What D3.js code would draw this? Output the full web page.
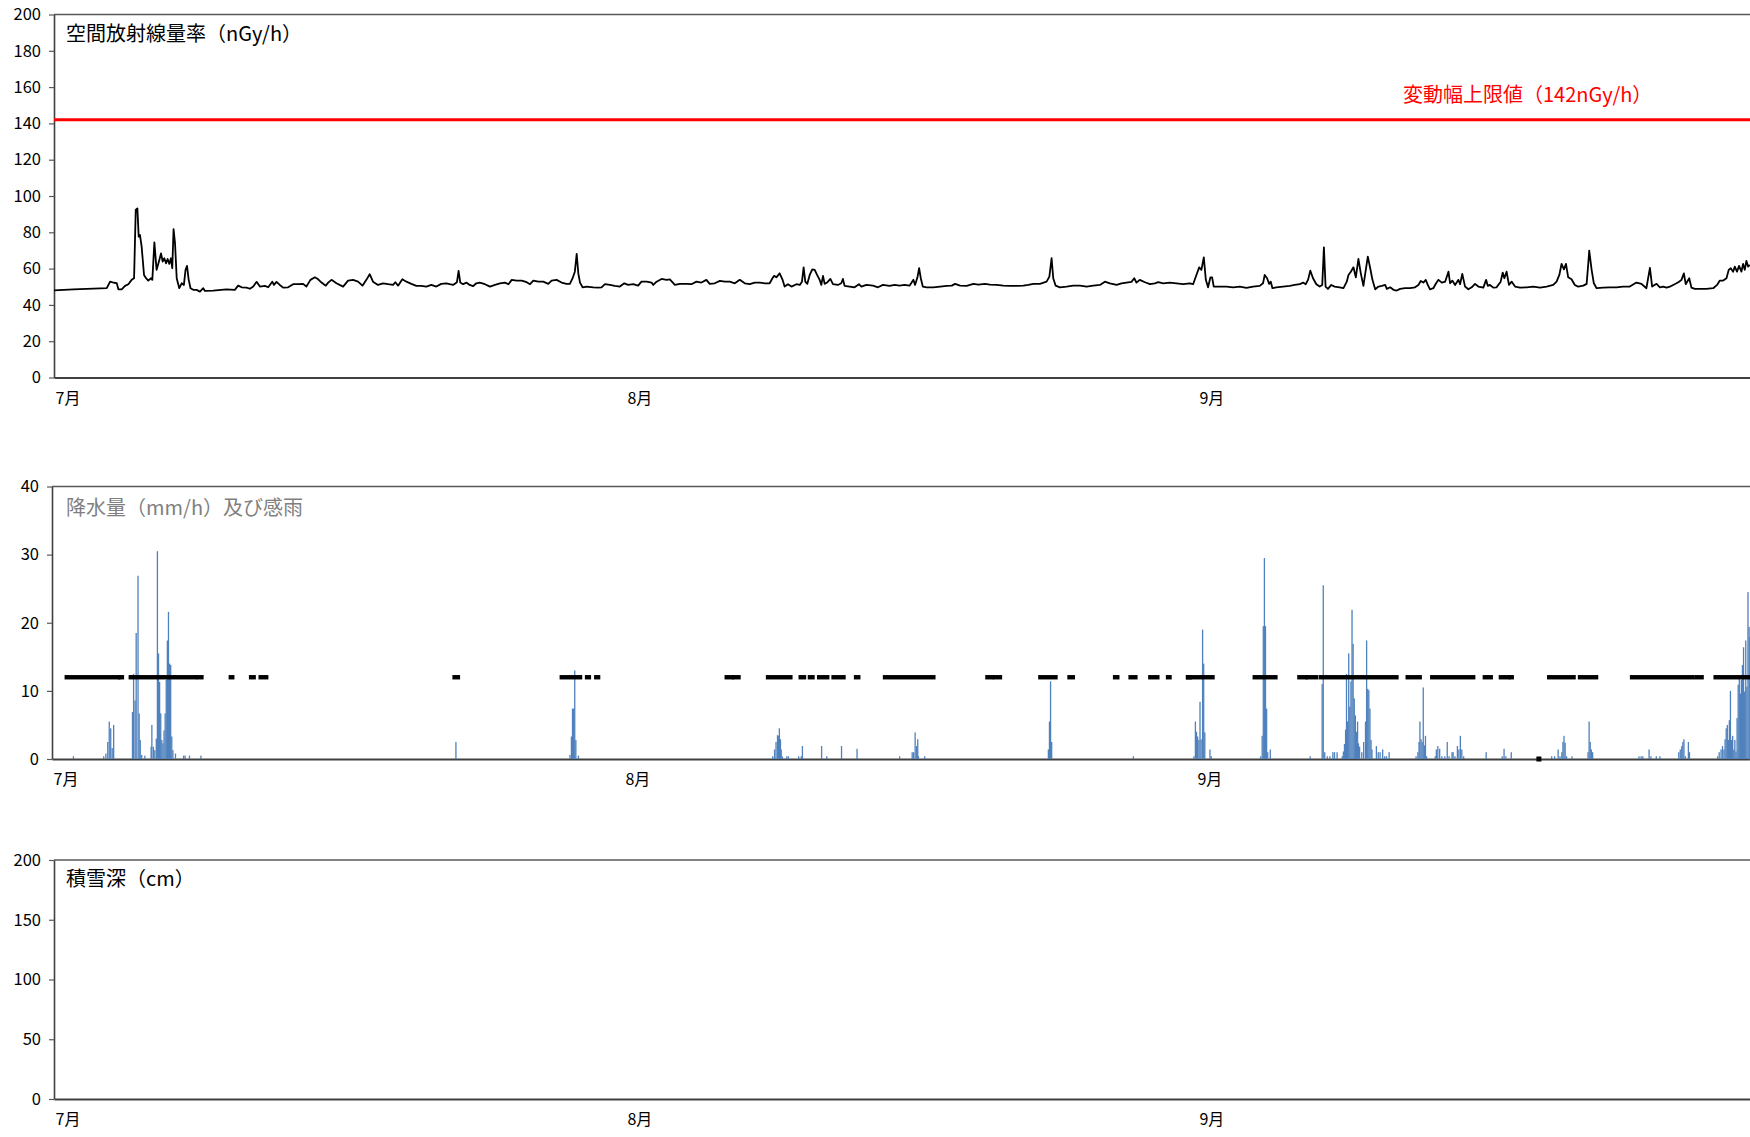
<!DOCTYPE html>
<html><head><meta charset="utf-8">
<script src="https://cdn.jsdelivr.net/npm/d3@7"></script>
<style>
body{margin:0;background:#fff}
svg{display:block}
text{font-family:"Noto Sans CJK JP","Noto Sans",sans-serif}
</style>
</head><body>
<svg id="c" width="1750" height="1137"></svg>
<script>
// ---------- data (day offset from 1 July, value) ----------
const monthLabels = ["7月","8月","9月"];
const monthStartDays = [0,31,62];
const totalDays = 92;

const radTicks = [0,20,40,60,80,100,120,140,160,180,200];
const rainTicks = [0,10,20,30,40];
const snowTicks = [0,50,100,150,200];

const radTitle = "空間放射線量率（nGy/h）";
const limitLabel = "変動幅上限値（142nGy/h）";
const limitValue = 142;
const rainTitle = "降水量（mm/h）及び感雨";
const snowTitle = "積雪深（cm）";
const rainSenseLevel = 12;

const radiation = [
[0,48.0],[1.05,48.5],[2.86,49.2],[3.04,52.8],[3.25,52.2],[3.40,52.0],[3.49,48.6],[3.67,48.6],[3.85,50.5],[4.03,51.4],[4.21,53.8],[4.34,54.7],[4.43,92.3],[4.52,93.2],[4.59,77.6],[4.66,78.5],[4.75,72.1],[4.88,56.5],[4.99,54.7],[5.11,53.4],[5.26,54.7],[5.33,53.8],[5.44,74.5],[5.56,59.3],[5.71,64.8],[5.80,68.4],[5.89,63.9],[5.98,65.7],[6.07,62.9],[6.16,65.3],[6.25,62.6],[6.34,65.7],[6.41,60.2],[6.48,81.7],[6.56,73.9],[6.65,54.7],[6.79,49.2],[6.92,51.9],[7.04,51.0],[7.13,59.3],[7.21,61.5],[7.30,53.8],[7.40,49.2],[7.55,48.3],[7.73,48.3],[7.91,47.3],[8.09,49.2],[8.18,47.7],[8.63,47.9],[9.35,48.6],[9.80,48.3],[9.98,50.6],[10.17,49.7],[10.44,49.5],[10.62,48.9],[10.80,50.1],[10.98,52.7],[11.16,50.1],[11.43,50.5],[11.61,49.7],[11.83,52.8],[11.92,51.0],[12.06,52.7],[12.24,51.0],[12.42,49.5],[12.69,49.7],[12.96,51.4],[13.23,51.4],[13.50,51.6],[13.68,50.1],[13.90,53.8],[14.14,55.2],[14.32,54.1],[14.50,52.3],[14.73,50.6],[14.86,52.3],[15.04,53.8],[15.31,51.9],[15.67,50.1],[15.94,53.4],[16.21,53.8],[16.48,52.8],[16.72,50.6],[16.93,53.8],[17.11,56.9],[17.29,52.8],[17.56,51.0],[17.84,51.9],[18.11,51.4],[18.38,51.0],[18.50,52.5],[18.65,50.6],[18.88,54.1],[19.10,52.8],[19.37,51.6],[19.64,50.5],[19.91,50.5],[20.18,50.1],[20.45,51.0],[20.72,50.1],[20.99,51.6],[21.26,51.9],[21.45,51.4],[21.63,51.0],[21.84,52.5],[21.93,58.7],[22.02,52.3],[22.17,51.4],[22.35,52.3],[22.53,51.0],[22.71,50.3],[22.89,51.9],[23.07,52.3],
[23.36,51.4],[23.63,50.1],[23.90,51.0],[24.17,51.9],[24.44,52.3],[24.63,51.4],[24.81,53.8],[25.08,53.4],[25.35,53.4],[25.62,52.5],[25.80,51.4],[25.98,53.4],[26.25,52.8],[26.52,52.8],[26.79,51.6],[26.97,53.4],[27.24,53.8],[27.51,52.3],[27.78,51.6],[27.96,51.6],[28.11,54.7],[28.23,58.3],[28.33,68.1],[28.42,57.2],[28.51,52.3],[28.65,49.7],[28.87,50.1],[29.23,49.7],[29.50,49.5],[29.68,49.7],[29.86,51.4],[30.13,51.0],[30.40,50.5],[30.67,50.1],[30.91,51.9],[31.12,51.0],[31.39,51.4],[31.66,50.6],[31.84,52.8],[32.12,52.8],[32.39,52.3],[32.48,51.0],[32.66,52.8],[32.93,54.3],[33.20,53.8],[33.38,54.1],[33.65,51.0],[33.92,51.6],[34.28,51.6],[34.55,51.4],[34.82,52.8],[35.09,52.3],[35.36,53.8],[35.54,51.6],[35.81,51.9],[36.09,53.2],[36.36,52.8],[36.63,52.8],[36.90,51.9],[37.17,53.8],[37.44,51.9],[37.71,51.4],[37.98,52.3],[38.25,52.3],[38.52,51.9],[38.79,51.9],[38.94,54.7],[39.03,56.0],[39.15,55.2],[39.33,57.4],[39.48,54.1],[39.60,50.1],[39.78,51.4],[39.97,50.1],[40.24,51.4],[40.42,51.0],[40.54,52.8],[40.63,60.7],[40.72,52.8],[40.83,51.6],[40.96,56.5],[41.10,59.6],[41.23,59.3],[41.36,56.5],[41.50,53.8],[41.59,51.0],[41.68,56.0],[41.77,51.6],[41.90,52.3],[42.08,54.3],[42.22,51.4],[42.49,51.0],[42.67,51.9],[42.76,54.3],[42.85,50.5],[43.12,50.1],[43.39,49.7],[43.63,51.4],[43.76,50.1],[44.03,51.0],[44.39,50.6],[44.66,49.7],[44.93,51.0],[45.29,50.5],[45.56,51.0],[45.83,50.6],[46.10,51.0],[46.37,50.6],
[46.58,53.8],[46.67,51.0],[46.80,55.2],[46.89,60.2],[46.98,54.7],[47.09,50.1],[47.30,49.7],[47.66,49.7],[48.03,50.1],[48.39,50.5],[48.66,50.6],[48.84,51.6],[49.11,50.6],[49.47,50.5],[49.83,51.6],[50.10,51.2],[50.46,51.6],[50.73,51.2],[51.09,51.0],[51.45,50.6],[51.82,50.5],[52.18,50.5],[52.54,50.6],[52.81,51.0],[53.08,51.6],[53.44,51.6],[53.80,52.8],[53.95,55.6],[54.07,65.7],[54.16,54.7],[54.29,50.6],[54.52,49.7],[54.88,50.1],[55.24,50.6],[55.61,50.6],[55.97,50.1],[56.33,50.6],[56.69,51.0],[56.96,52.8],[57.23,51.9],[57.59,51.0],[57.86,51.9],[58.13,52.3],[58.40,52.7],[58.55,54.7],[58.67,52.3],[58.85,53.8],[59.13,52.5],[59.40,51.4],[59.67,51.9],[59.85,52.5],[60.12,51.9],[60.48,52.3],[60.84,51.9],[61.20,51.4],[61.56,51.9],[61.74,51.4],[61.92,56.5],[62.07,60.7],[62.19,59.3],[62.32,66.2],[62.43,53.8],[62.55,49.7],[62.68,55.2],[62.77,55.2],[62.86,50.1],[63.19,50.1],[63.55,50.1],[63.91,49.7],[64.27,50.1],[64.63,49.4],[64.99,50.1],[65.35,50.5],[65.53,51.9],[65.62,56.5],[65.75,54.7],[65.86,51.6],[65.95,52.8],[66.04,49.2],[66.25,49.7],[66.61,50.1],[66.98,50.5],[67.25,51.0],[67.52,51.4],[67.70,52.3],[67.84,51.4],[67.97,53.8],[68.09,58.9],[68.24,54.7],[68.42,51.4],[68.60,50.1],[68.74,51.0],[68.83,71.7],[68.92,50.1],[69.05,48.8],[69.23,51.0],[69.41,50.1],[69.68,49.7],
[69.89,49.2],[70.07,52.8],[70.16,56.5],[70.29,58.3],[70.43,60.7],[70.56,55.2],[70.70,65.3],[70.83,57.4],[70.97,50.5],[71.10,59.3],[71.21,66.6],[71.34,60.2],[71.46,53.8],[71.61,48.6],[71.79,50.1],[71.97,50.5],[72.15,51.0],[72.24,48.8],[72.42,49.7],[72.60,48.3],[72.78,47.9],[72.96,48.8],[73.23,49.2],[73.50,49.2],[73.77,49.7],[73.95,51.0],[74.08,53.2],[74.22,52.3],[74.35,53.8],[74.46,51.0],[74.58,48.6],[74.76,49.2],[74.91,51.9],[75.04,53.8],[75.22,52.3],[75.40,52.8],[75.58,58.3],[75.67,51.9],[75.79,53.4],[75.94,51.0],[76.12,53.8],[76.21,51.4],[76.33,57.1],[76.48,50.1],[76.66,48.6],[76.84,49.7],[77.02,51.6],[77.20,50.1],[77.47,49.5],[77.62,53.8],[77.71,50.5],[77.83,51.0],[78.01,49.5],[78.19,49.7],[78.41,52.8],[78.52,57.8],[78.61,54.7],[78.73,58.3],[78.86,51.0],[79.01,52.8],[79.19,50.1],[79.46,49.5],[79.82,49.7],[80.18,50.1],[80.54,49.5],[80.90,50.1],[81.26,51.0],[81.44,52.8],[81.59,56.5],[81.71,62.6],[81.84,59.6],[81.95,62.6],[82.07,55.2],[82.25,54.1],[82.43,51.0],[82.61,50.1],[82.89,50.6],[83.07,51.6],[83.16,62.9],[83.21,69.9],[83.34,59.3],[83.46,51.9],[83.61,49.2],[83.97,49.5],[84.33,49.7],[84.69,49.7],[85.05,50.1],[85.41,50.1],[85.77,52.3],[86.04,51.6],[86.31,49.2],[86.50,60.4],[86.62,50.1],[86.86,51.6],[87.04,49.7],[87.22,50.1],[87.40,49.5],[87.58,50.1],[87.76,51.0],[87.94,51.9],[88.08,52.8],[88.21,53.8],[88.34,57.4],[88.44,51.4],[88.63,54.7],[88.75,49.5],[88.93,48.8],[89.20,48.8],[89.56,48.8],[89.93,49.2],[90.14,51.0],[90.29,53.4],[90.47,53.4],[90.65,54.7],[90.77,59.3],[90.88,60.2],[91.01,58.3],[91.10,61.1],[91.22,58.3],[91.33,61.5],[91.46,58.3],[91.55,62.6],[91.64,59.3],[91.73,64.2],[91.82,61.1],[91.91,62.0]
];

const rainfall = [
[1.16,0.4],[2.80,0.4],[2.92,0.8],[3.02,2.5],[3.10,5.5],[3.18,4.5],[3.26,1.6],[3.34,5.0],
[4.36,6.9],[4.42,12.5],[4.50,8.6],[4.56,18.5],[4.66,26.9],[4.72,6.7],[4.78,2.8],[4.86,0.6],[5.03,0.5],
[5.37,1.8],[5.41,5.0],[5.49,1.8],[5.57,1.3],[5.65,3.0],[5.71,30.5],[5.77,15.5],[5.83,11.3],[5.89,6.7],[5.95,2.8],[6.01,2.3],[6.07,4.2],[6.13,6.7],[6.19,11.6],[6.25,17.4],[6.31,21.6],[6.37,14.0],[6.43,13.8],[6.49,3.3],[6.55,1.3],[6.69,0.8],[7.13,0.5],[7.21,0.5],[7.45,0.5],[8.07,0.5],
[21.89,2.5],
[28.07,0.6],[28.15,3.3],[28.21,7.4],[28.27,7.4],[28.33,13.0],[28.39,2.8],[28.53,0.5],
[39.06,0.4],[39.16,1.4],[39.24,2.5],[39.32,3.5],[39.38,3.4],[39.42,4.5],[39.48,2.9],[39.52,1.4],[39.58,0.4],[39.82,0.4],[39.91,0.4],[40.47,0.4],[40.61,0.4],[40.67,1.9],[41.71,1.9],[41.99,0.4],[42.79,1.9],[43.63,1.5],
[45.94,0.4],[46.62,1.0],[46.70,1.0],[46.78,3.9],[46.86,1.9],[46.92,2.9],[46.96,0.4],[47.30,0.4],
[54.00,1.4],[54.06,5.5],[54.12,11.4],[54.18,2.5],[58.61,0.4],
[61.89,0.4],[61.97,5.5],[62.03,4.0],[62.09,3.3],[62.16,2.8],[62.22,8.4],[62.28,2.9],[62.36,19.0],[62.42,14.0],[62.48,3.9],[62.76,1.4],[62.83,0.4],
[65.51,0.4],[65.59,3.4],[65.65,19.5],[65.71,29.5],[65.77,19.5],[65.83,7.4],[65.89,1.0],[66.03,1.4],
[68.19,0.4],[68.84,11.0],[68.90,25.5],[68.98,1.0],[69.12,0.4],[69.26,0.4],[69.42,1.0],[69.51,1.0],[69.65,1.0],
[69.93,0.4],[69.99,1.1],[70.05,2.2],[70.11,4.3],[70.16,12.5],[70.22,5.5],[70.28,15.5],[70.34,7.7],[70.40,11.4],[70.46,21.9],[70.52,16.9],[70.58,8.9],[70.64,6.4],[70.70,4.0],[70.76,5.5],[70.81,2.3],[70.87,1.8],[70.99,1.0],
[71.09,2.5],[71.19,5.5],[71.25,17.4],[71.31,10.3],[71.37,10.1],[71.43,7.4],[71.49,2.8],[71.54,1.4],[71.78,1.9],[71.88,1.0],[71.98,1.0],[72.12,1.4],[72.23,0.4],[72.33,0.4],[72.47,1.0],
[73.93,0.4],[74.03,1.0],[74.09,2.5],[74.14,5.5],[74.20,2.9],[74.26,2.5],[74.32,10.5],[74.38,2.0],[74.44,3.4],[74.50,0.4],
[74.97,0.4],[75.03,1.4],[75.11,1.9],[75.21,1.5],[75.33,0.4],[75.49,0.4],[75.62,2.5],[75.72,0.4],[75.88,1.0],[75.94,1.0],[76.04,0.4],[76.17,1.9],[76.25,1.4],[76.33,3.4],[76.41,1.4],[76.51,0.4],
[77.73,1.0],[78.60,0.4],[78.70,1.5],[78.80,0.4],[79.09,1.0],
[81.28,0.4],[81.44,0.4],[81.63,1.4],[81.73,0.4],[81.83,1.0],[81.89,2.5],[81.95,3.4],[82.01,2.4],[82.09,0.4],[82.38,0.4],
[83.25,1.0],[83.31,5.5],[83.37,2.5],[83.43,1.4],[83.50,1.0],
[86.01,0.4],[86.13,0.4],[86.22,0.4],[86.56,1.4],[86.66,0.4],[86.95,0.4],[87.15,0.4],
[88.17,1.0],[88.25,1.4],[88.33,1.9],[88.39,2.5],[88.45,2.9],[88.53,0.4],[88.69,2.5],[88.75,1.0],
[90.28,0.4],[90.36,1.0],[90.46,1.4],[90.54,1.9],[90.62,1.4],[90.68,2.9],[90.74,4.5],[90.80,5.0],[90.86,2.8],[90.91,5.7],[90.97,10.0],[91.03,2.8],[91.09,3.4],[91.15,1.4],[91.21,2.8],[91.27,1.1],[91.33,6.0],[91.39,10.9],[91.45,12.1],[91.51,9.6],[91.56,11.6],[91.62,13.8],[91.68,16.4],[91.74,9.9],[91.80,17.4],[91.86,10.6],[91.92,24.5],[91.98,19.4],[92.02,17.9]
];

// periods with rain sensed [start day, end day]
const rainSensed = [
[0.79,3.60],[3.68,3.80],[4.26,7.77],[7.93,8.11],[9.68,9.78],[10.78,10.94],[11.30,11.62],[21.81,22.01],[27.62,28.63],[28.99,29.11],[29.49,29.61],
[36.56,36.86],[36.98,37.22],[38.80,40.03],[40.57,40.77],[41.07,41.23],[41.57,42.03],[42.35,42.91],[43.57,43.71],[45.14,47.78],[50.69,50.95],[51.10,51.39],[53.56,54.40],[55.14,55.34],[57.61,57.75],[58.45,58.73],[59.52,59.92],[60.48,60.58],[61.56,61.68],
[61.57,62.91],[65.18,66.32],[67.60,67.95],[68.05,68.53],[68.77,72.88],[73.47,74.14],[74.80,77.04],[77.65,77.99],[78.52,78.93],[79.07,79.13],[81.14,82.48],[82.81,83.70],[85.63,88.92],[89.12,89.42],[90.16,92.04]
];
const rainSensedZero = [80.59];

const snowDepth = []; // no snow in this period

// ---------- drawing ----------
const svg = d3.select("#c");
const dayPx = 18.45;
const axisColor = "#404040";

function panel(cfg){
  const x = d3.scaleLinear().domain([0,totalDays]).range([cfg.x0, cfg.x0 + totalDays*dayPx]);
  const y = d3.scaleLinear().domain([0,cfg.yMax]).range([cfg.bottom, cfg.top]);
  const g = svg.append("g");
  const clipId = "clip" + cfg.name;
  svg.append("clipPath").attr("id", clipId).append("rect")
    .attr("x", cfg.x0).attr("y", cfg.top - 2).attr("width", 1750 - cfg.x0).attr("height", cfg.bottom - cfg.top + 2);
  // top border
  g.append("line").attr("x1", cfg.x0).attr("x2", 1750).attr("y1", cfg.top).attr("y2", cfg.top)
    .attr("stroke", "#595959").attr("stroke-width", 1.3);
  // y axis
  const ya = g.append("g").attr("transform", `translate(${cfg.x0},0)`)
    .call(d3.axisLeft(y).tickValues(cfg.ticks).tickSize(5).tickPadding(8).tickSizeOuter(0));
  ya.select(".domain").attr("stroke", axisColor).attr("stroke-width", 1.6);
  ya.selectAll(".tick line").attr("stroke", "#595959").attr("stroke-width", 1.2);
  ya.selectAll(".tick text").attr("font-size", 16.5).attr("fill", "#000")
    .attr("font-family", '"Noto Sans CJK JP","Noto Sans",sans-serif');
  // x axis
  const xa = g.append("g").attr("transform", `translate(0,${cfg.bottom})`)
    .call(d3.axisBottom(x).tickValues(monthStartDays).tickFormat((d,i)=>monthLabels[i]).tickSize(0).tickPadding(15));
  xa.select(".domain").attr("stroke", axisColor).attr("stroke-width", 2.2);
  xa.selectAll(".tick text").attr("font-size", 16).attr("fill", "#000").attr("text-anchor", "start").attr("dx", 1)
    .attr("font-family", '"Noto Sans CJK JP","Noto Sans",sans-serif');
  // title
  g.append("text").attr("x", cfg.titleX).attr("y", cfg.titleY).attr("font-size", 20)
    .attr("fill", cfg.titleColor).text(cfg.title);
  const plot = svg.append("g").attr("clip-path", `url(#${clipId})`);
  return {x, y, g, plot};
}

// top: radiation
const p1 = panel({name:"rad", x0:54, top:14.5, bottom:377.5, yMax:200, ticks:radTicks,
  title:radTitle, titleX:66, titleY:41, titleColor:"#000"});
p1.plot.append("line").attr("x1", 54).attr("x2", 1750)
  .attr("y1", p1.y(limitValue)).attr("y2", p1.y(limitValue))
  .attr("stroke", "#ff0000").attr("stroke-width", 3);
p1.g.append("text").attr("x", 1403).attr("y", 102).attr("font-size", 20).attr("fill", "#ff0000").text(limitLabel);
p1.plot.append("path").datum(radiation)
  .attr("d", d3.line().x(d=>p1.x(d[0])).y(d=>p1.y(d[1])))
  .attr("fill", "none").attr("stroke", "#000").attr("stroke-width", 1.8).attr("stroke-linejoin", "round");

// middle: rainfall + rain sensing
const p2 = panel({name:"rain", x0:52, top:486.5, bottom:759, yMax:40, ticks:rainTicks,
  title:rainTitle, titleX:66, titleY:515, titleColor:"#7f7f7f"});
p2.plot.selectAll("rect.bar").data(rainfall).join("rect").attr("class","bar")
  .attr("x", d=>p2.x(d[0]) - 0.6).attr("width", 1.3)
  .attr("y", d=>p2.y(d[1])).attr("height", d=>p2.y(0) - p2.y(d[1]))
  .attr("fill", "#4f81bd");
p2.plot.selectAll("rect.sense").data(rainSensed).join("rect").attr("class","sense")
  .attr("x", d=>p2.x(d[0]) - 2).attr("width", d=>p2.x(d[1]) - p2.x(d[0]) + 4)
  .attr("y", p2.y(rainSenseLevel) - 2.2).attr("height", 4.4).attr("fill", "#000");
svg.selectAll("rect.zero").data(rainSensedZero).join("rect").attr("class","zero")
  .attr("x", d=>p2.x(d) - 2.5).attr("width", 5).attr("y", p2.y(0) - 2.5).attr("height", 5).attr("fill", "#000");

// bottom: snow depth
const p3 = panel({name:"snow", x0:54, top:860, bottom:1099, yMax:200, ticks:snowTicks,
  title:snowTitle, titleX:66, titleY:886, titleColor:"#000"});
p3.plot.selectAll("rect.snow").data(snowDepth).join("rect").attr("class","snow")
  .attr("x", d=>p3.x(d[0]) - 0.6).attr("width", 1.3)
  .attr("y", d=>p3.y(d[1])).attr("height", d=>p3.y(0) - p3.y(d[1])).attr("fill", "#4f81bd");
</script>
</body></html>
